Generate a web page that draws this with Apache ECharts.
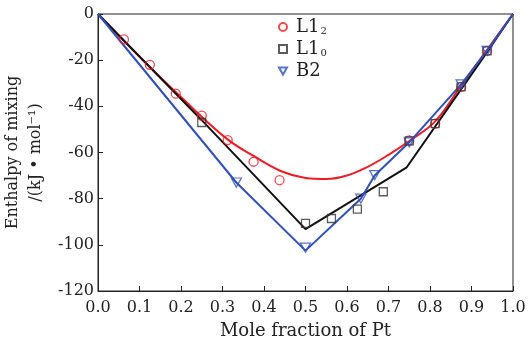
<!DOCTYPE html>
<html><head><meta charset="utf-8">
<script src="https://cdn.jsdelivr.net/npm/echarts@6/dist/echarts.min.js"></script>
<style>html,body{margin:0;padding:0;background:#fff}#c{width:528px;height:341px}</style>
</head><body><div id="c"></div>
<script>
// Categories / legend names
var seriesNames = ['L12', 'L10', 'B2'];
var xTicks = [0, 0.1, 0.2, 0.3, 0.4, 0.5, 0.6, 0.7, 0.8, 0.9, 1.0];
var yTicks = [0, -20, -40, -60, -80, -100, -120];

// L1_2 calculated points (red circles)
var l12X = [0.0625, 0.125, 0.1875, 0.25, 0.3125, 0.375, 0.4375, 0.75, 0.8125, 0.875, 0.9375];
var l12Y = [-11, -22, -34.5, -44, -54.6, -64, -72, -54.8, -47.5, -31.6, -16];
// L1_2 fitted curve (red)
var l12FitX = [0, 0.1, 0.2, 0.31, 0.375, 0.44, 0.5, 0.55, 0.6, 0.65, 0.7, 0.75, 0.8125, 0.875, 0.9375, 1.0];
var l12FitY = [0, -18.5, -36, -54, -61.5, -68, -71, -71.5, -70, -66.2, -61, -55, -46.5, -31, -15.5, 0];

// L1_0 calculated points (black squares)
var l10X = [0.25, 0.5, 0.5625, 0.625, 0.6875, 0.75, 0.8125, 0.875, 0.9375];
var l10Y = [-47, -90.7, -88.6, -84.5, -77, -55, -47.5, -31.6, -16];
// L1_0 line (black)
var l10LineX = [0, 0.25, 0.5, 0.744, 0.9375, 1.0];
var l10LineY = [0, -46, -93.2, -66.4, -16.5, 0];

// B2 calculated points (blue triangles)
var b2X = [0.3333, 0.5, 0.6333, 0.6667, 0.75, 0.875, 0.9375];
var b2Y = [-73, -101.2, -80, -69.8, -55.6, -30.5, -16];
// B2 line (blue)
var b2LineX = [0, 0.3333, 0.5, 0.6333, 0.6667, 0.75, 0.875, 0.9375, 1.0];
var b2LineY = [0, -73, -102.5, -80, -70, -55.6, -30.5, -16, 0];

function pairs(xs, ys) { return xs.map(function (x, i) { return [x, ys[i]]; }); }

var RED = '#ee1c25', BLACK = '#111111', BLUE = '#2f50b8';
var FONT = 'DejaVu Serif';
var triPath = 'path://M0,0 L10,0 L5,9 Z';

var chart = echarts.init(document.getElementById('c'), null, {renderer: 'canvas'});
chart.setOption({
  animation: false,
  backgroundColor: '#fff',
  grid: {left: 98, right: 15, top: 14, bottom: 50, show: true, borderColor: '#222', borderWidth: 1,
    containLabel: false, outerBoundsMode: 'none'},
  legend: {
    orient: 'vertical', left: 278, top: 18, padding: 0, itemGap: 4, itemWidth: 8, itemHeight: 8,
    data: [
      {name: seriesNames[0], icon: 'circle'},
      {name: seriesNames[1], icon: 'rect'},
      {name: seriesNames[2], icon: triPath}
    ],
    formatter: function (n) {
      if (n === 'L12') return '{n|L1}{s|2}';
      if (n === 'L10') return '{n|L1}{s|0}';
      return '{n|' + n + '}';
    },
    textStyle: {
      fontFamily: FONT, fontSize: 18, color: '#222', padding: [0, 0, 0, 4],
      rich: {
        n: {fontFamily: FONT, fontSize: 18, color: '#222', lineHeight: 18},
        s: {fontFamily: FONT, fontSize: 10, color: '#222', lineHeight: 18, verticalAlign: 'bottom', padding: [8, 0, 0, 1]}
      }
    }
  },
  xAxis: {
    type: 'value', min: 0, max: 1, interval: 0.1,
    name: 'Mole fraction of Pt', nameLocation: 'middle', nameGap: 31,
    nameTextStyle: {fontFamily: FONT, fontSize: 18, color: '#222'},
    axisLine: {show: true, onZero: false, lineStyle: {color: '#222', width: 1}},
    axisTick: {show: true, inside: true, length: 5, lineStyle: {color: '#222'}},
    axisLabel: {fontFamily: FONT, fontSize: 16, color: '#222', margin: 9,
      formatter: function (v) { return v.toFixed(1); }},
    splitLine: {show: false}
  },
  yAxis: {
    type: 'value', min: -120, max: 0, interval: 20,
    name: 'Enthalpy of mixing\n/(kJ • mol⁻¹)', nameLocation: 'middle', nameGap: 48, nameRotate: 90,
    nameTextStyle: {fontFamily: FONT, fontSize: 16, color: '#222', lineHeight: 23, align: 'center'},
    axisLine: {show: true, onZero: false, lineStyle: {color: '#222', width: 1}},
    axisTick: {show: true, inside: true, length: 5, lineStyle: {color: '#222'}},
    axisLabel: {fontFamily: FONT, fontSize: 16, color: '#222', margin: 4},
    splitLine: {show: false}
  },
  series: [
    {type: 'line', name: 'fitL12', data: pairs(l12FitX, l12FitY), smooth: 0.4, showSymbol: false, symbol: 'none',
      lineStyle: {color: RED, width: 2}, z: 2},
    {type: 'line', name: 'fitL10', data: pairs(l10LineX, l10LineY), showSymbol: false, symbol: 'none',
      lineStyle: {color: BLACK, width: 2}, z: 2},
    {type: 'line', name: 'fitB2', data: pairs(b2LineX, b2LineY), showSymbol: false, symbol: 'none',
      lineStyle: {color: BLUE, width: 2}, z: 3},
    {type: 'scatter', name: seriesNames[0], data: pairs(l12X, l12Y), symbol: 'circle', symbolSize: 9,
      itemStyle: {color: 'rgba(255,255,255,0)', borderColor: RED, borderWidth: 1.3}, z: 5},
    {type: 'scatter', name: seriesNames[1], data: pairs(l10X, l10Y), symbol: 'rect', symbolSize: 8,
      itemStyle: {color: 'rgba(255,255,255,0)', borderColor: '#333', borderWidth: 1.3}, z: 5},
    {type: 'scatter', name: seriesNames[2], data: pairs(b2X, b2Y), symbol: triPath, symbolSize: [10, 9],
      itemStyle: {color: 'rgba(255,255,255,0)', borderColor: BLUE, borderWidth: 1.3}, z: 5}
  ]
});
</script>
</body></html>
